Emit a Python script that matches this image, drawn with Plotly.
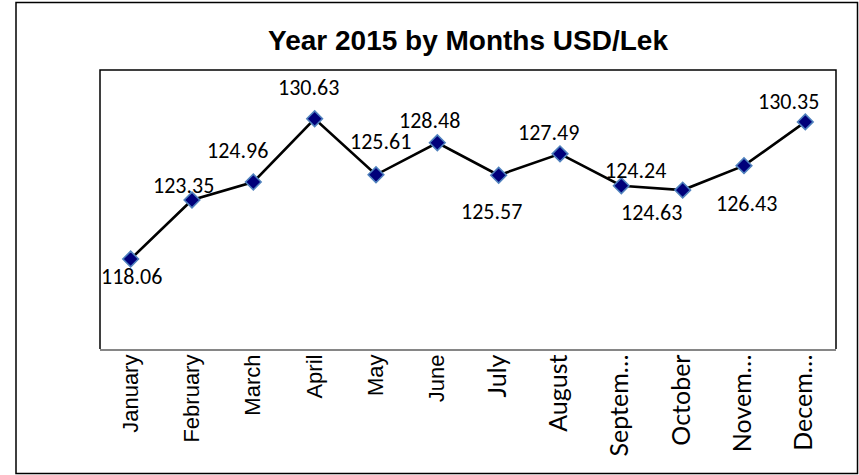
import plotly.graph_objects as go

months = ["January", "February", "March", "April", "May", "June",
          "July", "August", "Septem…", "October", "Novem…", "Decem…"]
usd_lek = [118.06, 123.35, 124.96, 130.63, 125.61, 128.48,
           125.57, 127.49, 124.63, 124.24, 126.43, 130.35]
title_text = "Year 2015 by Months USD/Lek"

# label offsets in screen pixels (dx right, dy down) relative to each marker
label_dx = [1, -9, -16, -6, 4, -8, -7, -12, 30, -47, 2, -17]
label_dy = [17, -15, -32, -31, -33, -22, 36, -21, 27, -20, 38, -20]
# first six tick labels are rendered in an Arial-like face, the rest in a Calibri-like face
tick_fonts = ["Liberation Sans"] * 6 + ["Lato"] * 6
tick_sizes = [22] * 6 + [25] * 6

W, H = 859, 475
ML, MR, MT, MB = 100, 23, 70, 126
pw, ph = W - ML - MR, H - MT - MB

fig = go.Figure()
fig.add_trace(go.Scatter(
    x=list(range(len(months))), y=usd_lek, mode="lines+markers",
    line=dict(color="black", width=2.6),
    marker=dict(symbol="diamond", size=12, color="#00007a",
                line=dict(color="#4f81bd", width=1.6)),
    hoverinfo="skip", showlegend=False,
))

for i, v in enumerate(usd_lek):
    fig.add_annotation(x=i, y=v, xref="x", yref="y", text=f"{v:.2f}",
                       showarrow=False, xanchor="center", yanchor="middle",
                       xshift=label_dx[i], yshift=-label_dy[i],
                       font=dict(family="Carlito, Calibri, Lato, sans-serif", size=22, color="black"))

ticktext = [f'<span style="font-family:{f};font-size:{s}px">{m}</span>'
            for m, f, s in zip(months, tick_fonts, tick_sizes)]

fig.update_layout(
    width=W, height=H, autosize=False,
    margin=dict(l=ML, r=MR, t=MT, b=MB, pad=0),
    paper_bgcolor="white", plot_bgcolor="white",
    title=dict(text=f"<b>{title_text}</b>", x=0.5, xref="paper", xanchor="center",
               y=1 - 40 / H, yref="container", yanchor="middle",
               font=dict(family="Liberation Sans, Arial, sans-serif", size=28, color="black")),
    xaxis=dict(range=[-0.5, len(months) - 0.5], tickmode="array",
               tickvals=list(range(len(months))), ticktext=ticktext,
               tickangle=-90, showgrid=False, zeroline=False,
               showline=True, linecolor="#868686", linewidth=1.5,
               ticks="", ticklen=0, ticklabelstandoff=-5,
               tickfont=dict(family="Liberation Sans, Arial, sans-serif", size=22, color="black")),
    yaxis=dict(range=[110, 135], showgrid=False, zeroline=False,
               showticklabels=False, showline=False, ticks=""),
)

# black frame of plot area (left, top, right)
fig.add_shape(type="path", xref="paper", yref="paper",
              path="M 0,0 L 0,1 L 1,1 L 1,0",
              line=dict(color="black", width=1.5))
# outer chart border
x0 = (16 - ML) / pw
x1 = (857.5 - ML) / pw
y1 = (H - MB - 2.5) / ph
y0 = (H - MB - 473.5) / ph
fig.add_shape(type="rect", xref="paper", yref="paper",
              x0=x0, x1=x1, y0=y0, y1=y1,
              line=dict(color="black", width=1.5), layer="above")

fig.write_html("out.html", config={"displayModeBar": False},
               post_script="document.body.style.margin='0';document.body.style.padding='0';")
